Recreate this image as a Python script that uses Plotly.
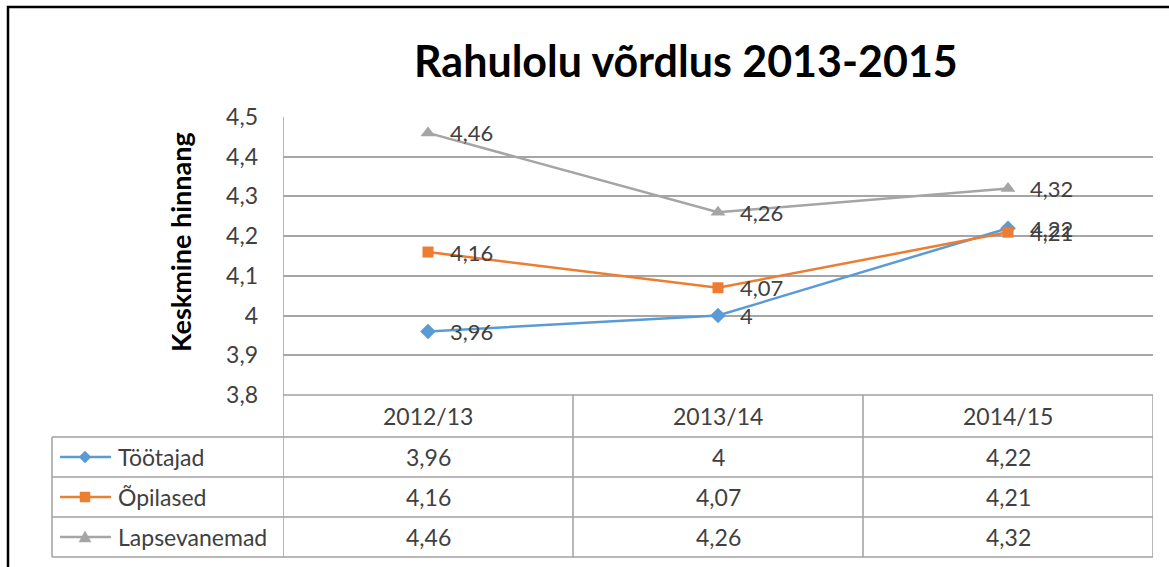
import plotly.graph_objects as go

# ---- data ----
categories = ["2012/13", "2013/14", "2014/15"]
series_names = ["Töötajad", "Õpilased", "Lapsevanemad"]
tootajad = [3.96, 4.00, 4.22]
opilased = [4.16, 4.07, 4.21]
lapsevanemad = [4.46, 4.26, 4.32]
y_ticks = [3.8, 3.9, 4.0, 4.1, 4.2, 4.3, 4.4, 4.5]
y_ticktext = ["3,8", "3,9", "4", "4,1", "4,2", "4,3", "4,4", "4,5"]

series_values = [tootajad, opilased, lapsevanemad]
colors = ["#5b9bd5", "#ed7d31", "#a5a5a5"]
symbols = ["diamond", "square", "triangle-up"]
marker_sizes = [12, 11, 13]
# small legend-key glyphs (pixel paths around the key centre)
key_paths = ["M0,6 L6,0 L0,-6 L-6,0 Z", "M-5,-5 L5,-5 L5,5 L-5,5 Z", "M-6,-5 L6,-5 L0,6 Z"]

W, H = 1169, 567
FONT = "Lato, 'Open Sans', sans-serif"
TXT = "#404040"
GRID = "#a6a6a6"


def px_x(v):
    return v / W


def px_y(v):
    return 1 - v / H


def fmt(v):
    return f"{v:g}".replace(".", ",")


fig = go.Figure()

for name, vals, col, sym, ms in zip(series_names, series_values, colors, symbols, marker_sizes):
    fig.add_trace(go.Scatter(
        x=categories, y=vals, name=name, mode="lines+markers",
        line=dict(color=col, width=2.5),
        marker=dict(symbol=sym, size=ms, color=col),
        showlegend=False, cliponaxis=False,
    ))

# data labels
annotations = []
for vals in series_values:
    for cat, v in zip(categories, vals):
        annotations.append(dict(
            x=cat, y=v, xref="x", yref="y", text=fmt(v), showarrow=False,
            xanchor="left", yanchor="middle", xshift=20,
            font=dict(family=FONT, size=22, color=TXT),
        ))

# title + axis title
annotations.append(dict(
    x=px_x(686), y=px_y(60), xref="paper", yref="paper",
    xanchor="center", yanchor="middle",
    text="<b>Rahulolu võrdlus 2013-2015</b>", showarrow=False,
    font=dict(family=FONT, size=43, color="#000000"),
))
annotations.append(dict(
    x=px_x(180), y=px_y(242), xref="paper", yref="paper",
    xanchor="center", yanchor="middle",
    text="<b>Keskmine hinnang</b>", showarrow=False, textangle=-90,
    font=dict(family=FONT, size=27, color="#000000"),
))

# data table: header row and value rows
header_y = 416
row_ys = [457, 497, 537]
for cat in categories:
    annotations.append(dict(
        x=cat, y=px_y(header_y), xref="x", yref="paper", text=cat,
        xanchor="center", yanchor="middle",
        showarrow=False, font=dict(family=FONT, size=23, color=TXT),
    ))
for ry, name, vals in zip(row_ys, series_names, series_values):
    for cat, v in zip(categories, vals):
        annotations.append(dict(
            x=cat, y=px_y(ry), xref="x", yref="paper", text=fmt(v),
            xanchor="center", yanchor="middle",
            showarrow=False, font=dict(family=FONT, size=23, color=TXT),
        ))
    annotations.append(dict(
        x=px_x(116), y=px_y(ry), xref="paper", yref="paper", text=name,
        xanchor="left", yanchor="middle", showarrow=False,
        font=dict(family=FONT, size=23, color=TXT),
    ))

shapes = []
# legend keys inside the table
for ry, col, kp in zip(row_ys, colors, key_paths):
    shapes.append(dict(type="line", xref="paper", yref="paper",
                       x0=px_x(60), x1=px_x(111), y0=px_y(ry), y1=px_y(ry),
                       line=dict(color=col, width=2.5)))
    shapes.append(dict(type="path", xref="paper", yref="paper",
                       xsizemode="pixel", ysizemode="pixel",
                       xanchor=px_x(85), yanchor=px_y(ry), path=kp,
                       fillcolor=col, line=dict(color=col, width=0.5)))

# table lines
LINE = dict(color="#a0a0a0", width=1.5)
for ry in [395, 437, 477, 517, 557]:
    x0 = 283 if ry == 395 else 52
    shapes.append(dict(type="line", xref="paper", yref="paper", layer="below",
                       x0=px_x(x0), x1=px_x(1153), y0=px_y(ry), y1=px_y(ry), line=LINE))
# column boundaries follow the category axis
for i, b in enumerate([-0.5, 0.5, 1.5, 2.5]):
    shapes.append(dict(type="line", xref="x", yref="paper", layer="below",
                       x0=b, x1=b, y0=px_y(557), y1=px_y(117 if i == 0 else 395), line=LINE))
shapes.append(dict(type="line", xref="paper", yref="paper",
                   x0=px_x(52), x1=px_x(52), y0=px_y(437), y1=px_y(557), line=LINE))
# outer frame
shapes.append(dict(type="rect", xref="paper", yref="paper",
                   x0=px_x(8), x1=px_x(1190), y0=px_y(7), y1=px_y(590),
                   line=dict(color="#000000", width=2.5)))

fig.update_layout(
    width=W, height=H,
    margin=dict(l=0, r=0, t=0, b=0),
    paper_bgcolor="white", plot_bgcolor="white",
    showlegend=False,
    font=dict(family=FONT, color=TXT),
    xaxis=dict(domain=[px_x(283), px_x(1153)], range=[-0.5, 2.5], automargin=False,
               showticklabels=False, showgrid=False, zeroline=False, showline=False),
    yaxis=dict(domain=[px_y(395), px_y(117)], range=[3.8, 4.5], automargin=False,
               tickvals=y_ticks, ticktext=y_ticktext,
               tickfont=dict(family=FONT, size=23, color=TXT),
               ticklabelstandoff=24,
               showgrid=True, gridcolor=GRID, gridwidth=1.5,
               zeroline=False, showline=False),
    annotations=annotations,
    shapes=shapes,
)

fig.write_html("out.html", config={"displayModeBar": False},
               post_script="document.body.style.margin='0';")
